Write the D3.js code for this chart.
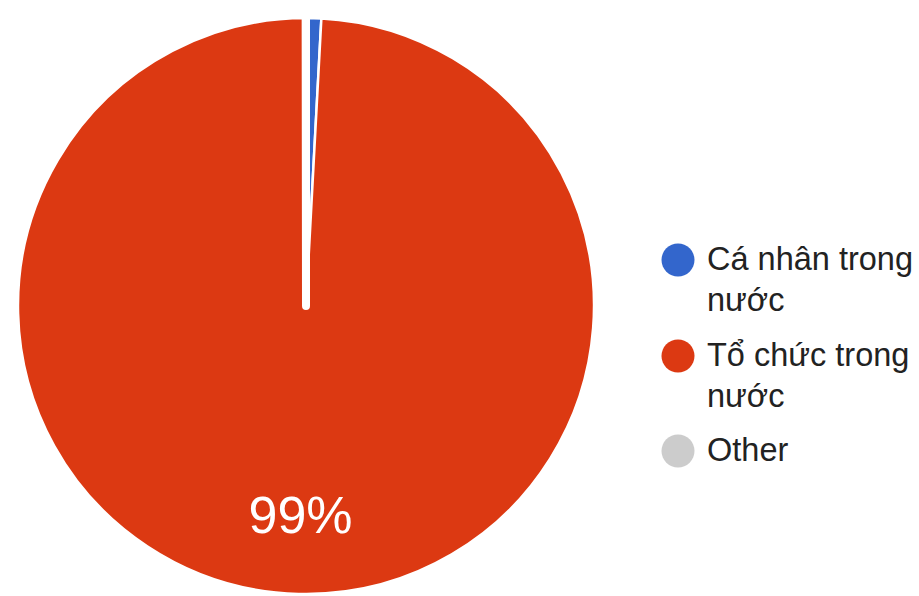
<!DOCTYPE html>
<html>
<head>
<meta charset="utf-8">
<script src="https://cdn.jsdelivr.net/npm/d3@7"></script>
<style>
  html, body { margin: 0; padding: 0; background: #fff; }
  svg { display: block; }
</style>
</head>
<body>
<svg id="chart" width="919" height="596"></svg>
<script>
const categories = ["Cá nhân trong nước", "Tổ chức trong nước", "Other"];
const values = [0.85, 99.13, 0.02];
const colors = ["#3366cc", "#dc3912", "#cccccc"];

const W = 919, H = 596;
const cx = 306, cy = 306, R = 288;
const svg = d3.select("#chart");

const pie = d3.pie().sort(null).value(d => d.value);
const data = categories.map((c, i) => ({ name: c, value: values[i], color: colors[i] }));
const arcs = pie(data);
const arc = d3.arc().innerRadius(0).outerRadius(R);

const g = svg.append("g").attr("transform", `translate(${cx},${cy})`);
g.selectAll("path")
  .data(arcs)
  .join("path")
  .attr("d", arc)
  .attr("fill", d => d.data.color)
  .attr("stroke", "#fff")
  .attr("stroke-width", (d, i) => i === 2 ? 8 : 2.5)
  .attr("stroke-linejoin", "round");

// percentage labels for large slices
const total = d3.sum(values);
const labelArc = d3.arc().innerRadius(R * 0.725).outerRadius(R * 0.725);
g.selectAll("text.pct")
  .data(arcs.filter(d => d.data.value / total > 0.05))
  .join("text")
  .attr("class", "pct")
  .attr("transform", d => `translate(${labelArc.centroid(d)})`)
  .attr("text-anchor", "middle")
  .attr("dy", "0.35em")
  .attr("fill", "#fff")
  .style("font-family", "'Liberation Sans', Arial, sans-serif")
  .style("font-size", "52px")
  .text(d => Math.round(d.data.value / total * 100) + "%");

// legend
const legendX = 678, textX = 707, maxW = 212;
const itemTops = [270, 366, 461];
const lineH = 41;
const leg = svg.append("g");
data.forEach((d, i) => {
  const base = itemTops[i];
  leg.append("circle")
    .attr("cx", legendX)
    .attr("cy", base - 10)
    .attr("r", 16.5)
    .attr("fill", d.color);
  const t = leg.append("text")
    .attr("x", textX)
    .attr("y", base)
    .attr("fill", "#222")
    .style("font-family", "'Liberation Sans', Arial, sans-serif")
    .style("font-size", "32.5px");
  const words = d.name.split(" ");
  let line = [];
  let tspan = t.append("tspan").attr("x", textX).attr("y", base);
  let lineNo = 0;
  words.forEach(w => {
    line.push(w);
    tspan.text(line.join(" "));
    if (tspan.node().getComputedTextLength() > maxW && line.length > 1) {
      line.pop();
      tspan.text(line.join(" "));
      line = [w];
      lineNo++;
      tspan = t.append("tspan").attr("x", textX).attr("y", base + lineNo * lineH).text(w);
    }
  });
});
</script>
</body>
</html>
